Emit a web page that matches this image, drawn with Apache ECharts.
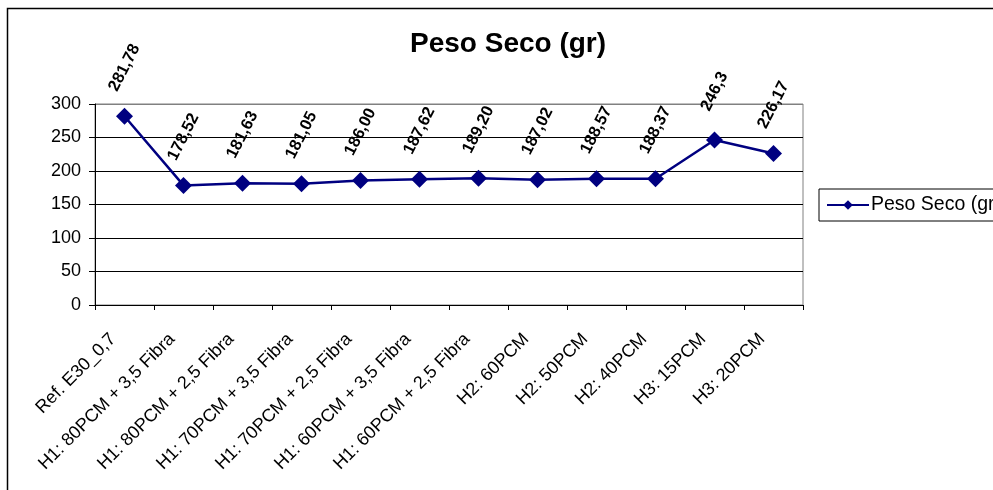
<!DOCTYPE html>
<html>
<head>
<meta charset="utf-8">
<script src="https://cdn.jsdelivr.net/npm/echarts@6/dist/echarts.min.js"></script>
<style>
  html, body { margin: 0; padding: 0; background: #fff; }
  #chart { width: 993px; height: 490px; }
</style>
</head>
<body>
<div id="chart"></div>
<script>
// Dry weight per mix (grams)
const categories = [
  'Ref. E30_0,7',
  'H1: 80PCM + 3,5 Fibra',
  'H1: 80PCM + 2,5 Fibra',
  'H1: 70PCM + 3,5 Fibra',
  'H1: 70PCM + 2,5 Fibra',
  'H1: 60PCM + 3,5 Fibra',
  'H1: 60PCM + 2,5 Fibra',
  'H2: 60PCM',
  'H2: 50PCM',
  'H2: 40PCM',
  'H3: 15PCM',
  'H3: 20PCM'
];
const pesoSeco = [281.78, 178.52, 181.63, 181.05, 186.00, 187.62, 189.20, 187.02, 188.57, 188.37, 246.3, 226.17];
// decimals shown in each value label
const labelDecimals = [2, 2, 2, 2, 2, 2, 2, 2, 2, 2, 1, 2];
const yTicks = [0, 50, 100, 150, 200, 250, 300];

const FONT = '"Liberation Sans", Arial, sans-serif';
const chart = echarts.init(document.getElementById('chart'), null, { renderer: 'canvas' });

chart.setOption({
  animation: false,
  backgroundColor: '#fff',
  title: {
    text: 'Peso Seco (gr)',
    left: 405,
    top: 25,
    textStyle: { fontFamily: FONT, fontSize: 28, fontWeight: 'bold', color: '#000' }
  },
  graphic: [{
    type: 'rect',
    shape: { x: 7.5, y: 8.5, width: 1200, height: 700 },
    style: { fill: null, stroke: '#000', lineWidth: 1.5 },
    silent: true,
    z: -1
  }],
  legend: {
    left: 819,
    top: 189,
    orient: 'vertical',
    padding: [6, 8, 6, 7],
    borderColor: '#000',
    borderWidth: 1,
    itemWidth: 42,
    itemHeight: 12,
    itemGap: 0,
    textStyle: { fontFamily: FONT, fontSize: 19.5, color: '#000', padding: [0, 0, 0, -3] },
    data: ['Peso Seco (gr)']
  },
  grid: {
    left: 95, right: 190, top: 104, bottom: 185,
    show: true, borderColor: '#808080', borderWidth: 1
  },
  xAxis: {
    type: 'category',
    data: categories,
    boundaryGap: true,
    axisLine: { lineStyle: { color: '#000', width: 1 } },
    axisTick: { show: true, alignWithLabel: false, length: 5, lineStyle: { color: '#000' } },
    axisLabel: {
      interval: 0,
      rotate: 45,
      margin: 20,
      padding: [0, 16, 0, 0],
      fontFamily: FONT,
      fontSize: 18,
      color: '#000'
    },
    splitLine: { show: false }
  },
  yAxis: {
    type: 'value',
    min: yTicks[0],
    max: yTicks[yTicks.length - 1],
    interval: 50,
    axisLine: { show: true, lineStyle: { color: '#000', width: 1 } },
    axisTick: { show: true, length: 6, lineStyle: { color: '#000' } },
    axisLabel: { margin: 14, fontFamily: FONT, fontSize: 18, color: '#000' },
    splitLine: {
      show: true,
      lineStyle: { color: ['#000', '#000', '#000', '#000', '#000', '#000', '#808080'], width: 1 }
    }
  },
  series: [{
    name: 'Peso Seco (gr)',
    type: 'line',
    data: pesoSeco,
    symbol: 'diamond',
    symbolSize: 17,
    lineStyle: { color: '#000080', width: 2.5 },
    itemStyle: { color: '#000080' },
    label: {
      show: true,
      position: 'top',
      distance: 40,
      rotate: 63,
      align: 'center',
      verticalAlign: 'middle',
      fontFamily: FONT,
      fontSize: 16.5,
      fontWeight: 'bold',
      color: '#000',
      formatter: p => p.value.toFixed(labelDecimals[p.dataIndex]).replace('.', ',')
    }
  }]
});
</script>
</body>
</html>
